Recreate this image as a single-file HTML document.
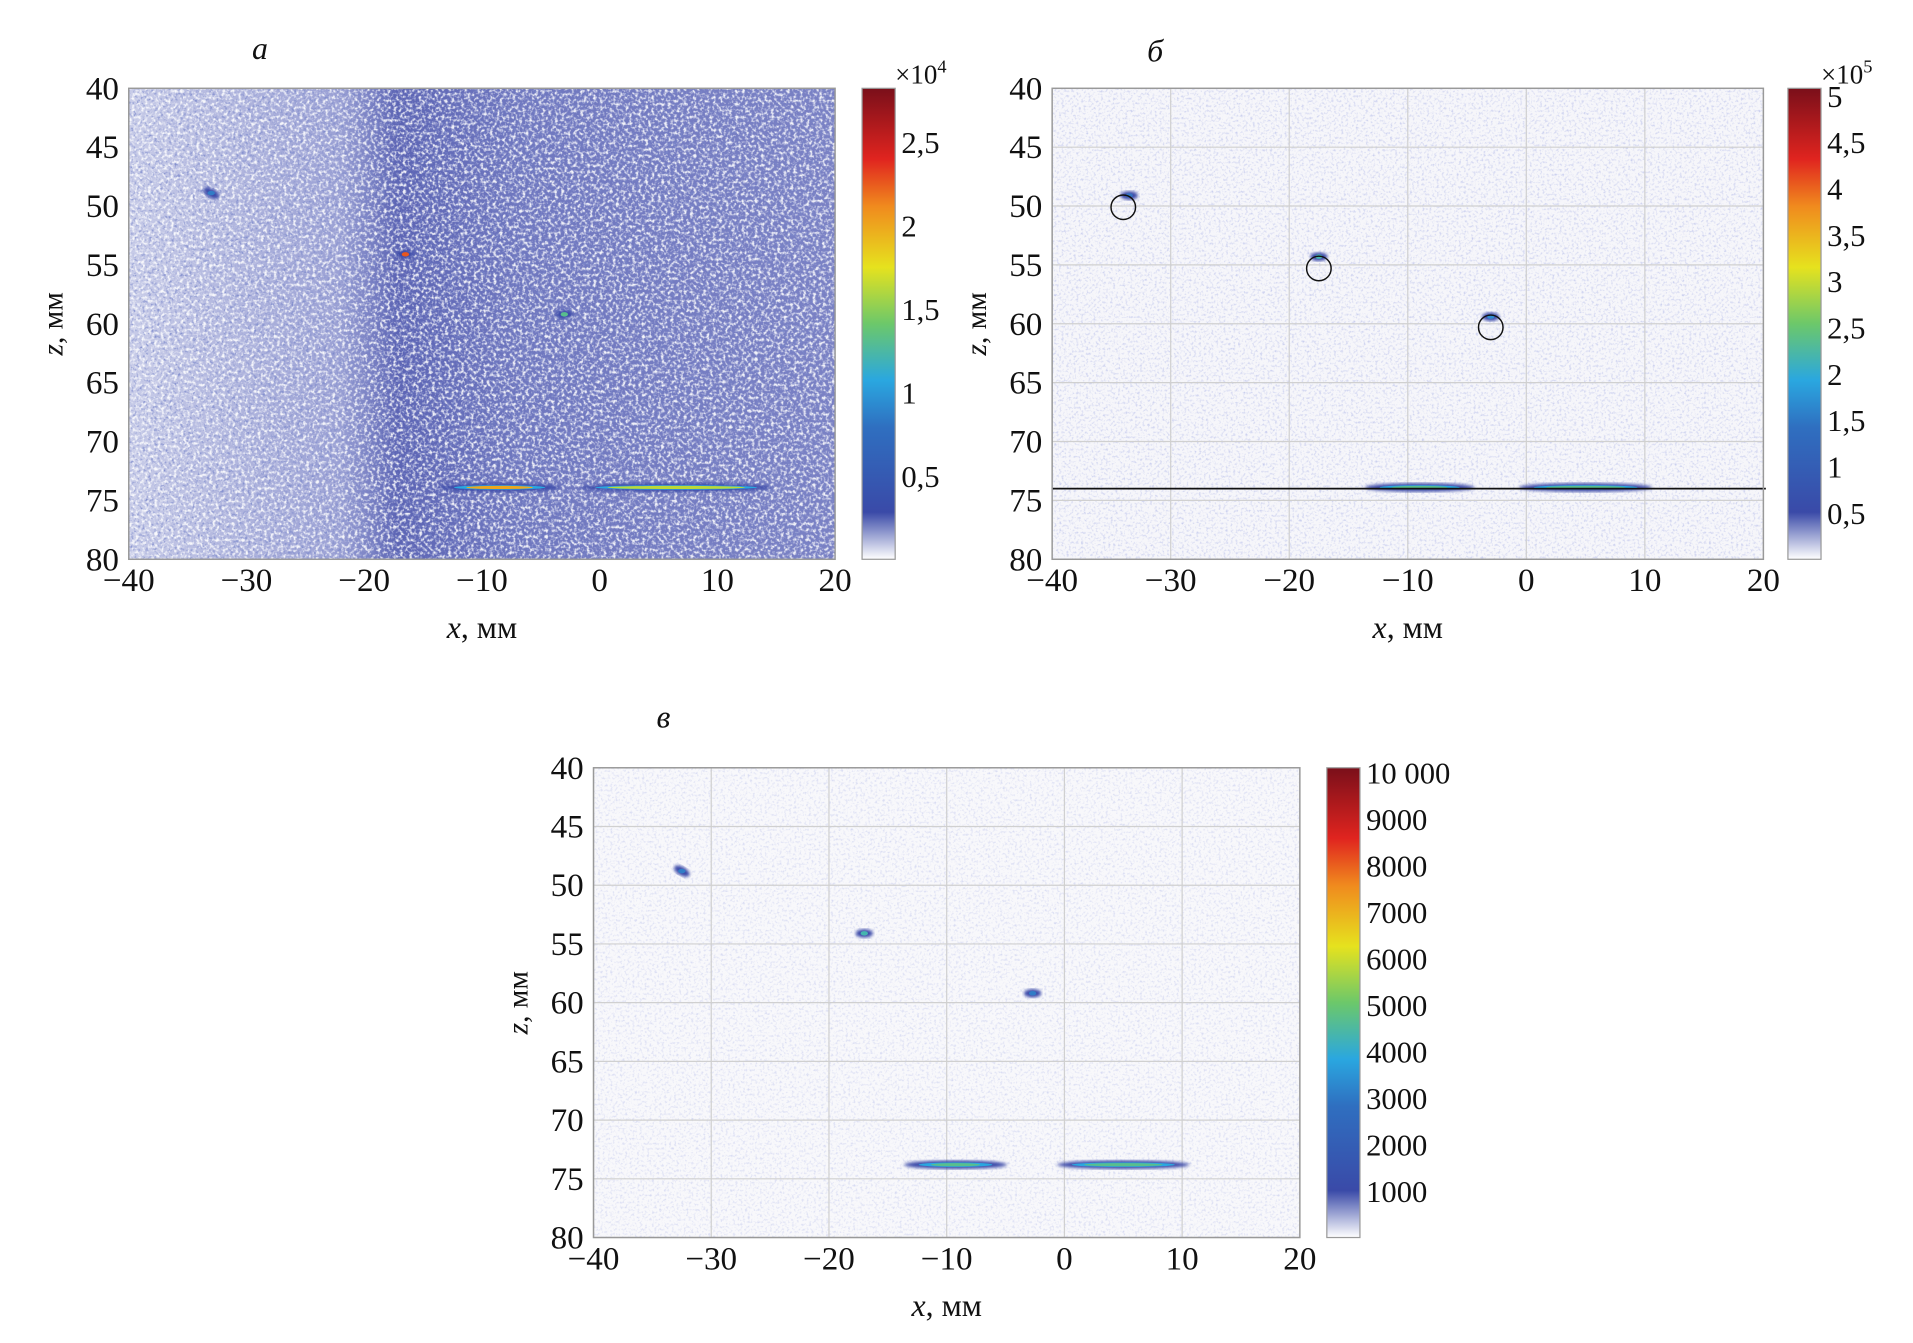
<!DOCTYPE html>
<html><head><meta charset="utf-8">
<style>
html,body{margin:0;padding:0;background:#fff;}
svg{display:block;}
text{font-family:"Liberation Serif","DejaVu Serif",serif;fill:#111;}
</style></head>
<body>
<svg id="fig" width="1913" height="1343" viewBox="0 0 1560 1095" preserveAspectRatio="none" xmlns="http://www.w3.org/2000/svg">
<defs>
 <linearGradient id="jet" x1="0" y1="1" x2="0" y2="0">
  <stop offset="0" stop-color="#ffffff"/>
  <stop offset="0.1" stop-color="#3a4aa8"/>
  <stop offset="0.28" stop-color="#2f6fc0"/>
  <stop offset="0.38" stop-color="#2aa7e0"/>
  <stop offset="0.5" stop-color="#6cc86a"/>
  <stop offset="0.62" stop-color="#e6e21e"/>
  <stop offset="0.75" stop-color="#f08a1e"/>
  <stop offset="0.85" stop-color="#e0241f"/>
  <stop offset="1" stop-color="#7a0f1a"/>
 </linearGradient>
 <linearGradient id="bgA" x1="0" y1="0" x2="1" y2="0">
  <stop offset="0" stop-color="#c8cce8"/>
  <stop offset="0.3" stop-color="#9aa0d4"/>
  <stop offset="0.38" stop-color="#5c64b4"/>
  <stop offset="0.55" stop-color="#6f77bf"/>
  <stop offset="1" stop-color="#7a81c4"/>
 </linearGradient>
 <filter id="noise" x="0" y="0" width="1" height="1">
  <feTurbulence type="fractalNoise" baseFrequency="0.38" numOctaves="2" seed="3"/>
  <feColorMatrix type="matrix" values="0 0 0 0 1  0 0 0 0 1  0 0 0 0 1  0 0 0 3.2 -1.45"/>
 </filter>
 <filter id="noiseD" x="0" y="0" width="1" height="1">
  <feTurbulence type="fractalNoise" baseFrequency="0.42" numOctaves="2" seed="11"/>
  <feColorMatrix type="matrix" values="0 0 0 0 0.2  0 0 0 0 0.25  0 0 0 0 0.6  0 0 0 3.0 -1.55"/>
 </filter>
 <filter id="noiseB" x="0" y="0" width="1" height="1">
  <feTurbulence type="fractalNoise" baseFrequency="0.5" numOctaves="2" seed="7"/>
  <feColorMatrix type="matrix" values="0 0 0 0 0.3  0 0 0 0 0.35  0 0 0 0 0.75  0 0 0 2.0 -1.0"/>
 </filter>
 <filter id="blur"><feGaussianBlur stdDeviation="1.2"/></filter>
</defs>
</svg>
<script>
// Panel data (x in mm, z in mm, relative intensity 0..1)
const xTicks = [-40,-30,-20,-10,0,10,20];
const zTicks = [40,45,50,55,60,65,70,75,80];
const blobsA_x = [-33,-16.5,-3];
const blobsA_z = [48.9,54.1,59.2];
const blobsA_v = [0.15,0.8,0.4];
const barsA_x0 = [-13,-1];
const barsA_x1 = [-4,14];
const barsA_z = [73.9,73.9];
const barsA_v = [0.7,0.55];
const blobsB_x = [-33.5,-17.5,-3];
const blobsB_z = [49.1,54.3,59.4];
const blobsB_v = [0.12,0.35,0.2];
const circB_x = [-34,-17.5,-3];
const circB_z = [50.1,55.3,60.3];
const barsB_x0 = [-13,0];
const barsB_x1 = [-5,10];
const barsB_z = [73.9,73.9];
const barsB_v = [0.4,0.4];
const blobsC_x = [-32.5,-17,-2.7];
const blobsC_z = [48.8,54.1,59.2];
const blobsC_v = [0.15,0.35,0.15];
const barsC_x0 = [-13,0];
const barsC_x1 = [-5.5,10];
const barsC_z = [73.8,73.8];
const barsC_v = [0.4,0.4];
const cbA_ticks = [0.5,1,1.5,2,2.5]; const cbA_labels=["0,5","1","1,5","2","2,5"];
const cbB_ticks = [0.5,1,1.5,2,2.5,3,3.5,4,4.5,5]; const cbB_labels=["0,5","1","1,5","2","2,5","3","3,5","4","4,5","5"];
const cbC_ticks = [1000,2000,3000,4000,5000,6000,7000,8000,9000,10000]; const cbC_labels=["1000","2000","3000","4000","5000","6000","7000","8000","9000","10 000"];

const NS="http://www.w3.org/2000/svg";
const svg=document.getElementById('fig');
function el(tag,attrs,parent){const e=document.createElementNS(NS,tag);for(const k in attrs)e.setAttribute(k,attrs[k]);(parent||svg).appendChild(e);return e;}
function txt(s,attrs,parent){const t=el('text',attrs,parent);t.textContent=s;return t;}
function jet(v){const st=[[0,[58,74,168]],[0.28,[42,167,224]],[0.45,[108,200,106]],[0.6,[230,226,30]],[0.75,[240,138,30]],[0.85,[224,36,31]],[1,[122,15,26]]];
 for(let i=1;i<st.length;i++){if(v<=st[i][0]){const a=st[i-1],b=st[i],t=(v-a[0])/(b[0]-a[0]);return 'rgb('+a[1].map((c,j)=>Math.round(c+(b[1][j]-c)*t)).join(',')+')';}}return 'rgb(122,15,26)';}

function panel(o){
 const g=el('g',{});
 
 
 const X=x=>o.x0+(x+40)/60*(o.x1-o.x0);
 const Z=z=>o.y0+(z-40)/40*(o.y1-o.y0);
 const bg=el('rect',{x:o.x0,y:o.y0,width:o.x1-o.x0,height:o.y1-o.y0,fill:o.bg},g);
 
 
 if(o.dark) el('rect',{x:o.x0,y:o.y0,width:o.x1-o.x0,height:o.y1-o.y0,filter:o.dark,opacity:0.9},g);
 el('rect',{x:o.x0,y:o.y0,width:o.x1-o.x0,height:o.y1-o.y0,filter:o.noise,opacity:o.nop},g);
 if(o.grid){
  xTicks.forEach(t=>{const l=el('line',{x1:X(t),x2:X(t),y1:o.y0,y2:o.y1,stroke:'#d0d0d0','stroke-width':1},g);});
  zTicks.forEach(t=>{const l=el('line',{x1:o.x0,x2:o.x1,y1:Z(t),y2:Z(t),stroke:'#d0d0d0','stroke-width':1},g);});
 }
 const d=o.data;
 d.bx.forEach((x,i)=>{
  const c=X(x),cz=Z(d.bz[i]);
  el('ellipse',{cx:c,cy:cz,rx:7,ry:3.5,fill:'#3a4aa8',filter:'url(#blur)',transform:o.tilt&&i==0?'rotate(30 '+c+' '+cz+')':''},g);
  const e=el('ellipse',{cx:c,cy:cz,rx:3,ry:1.8,fill:jet(d.bv[i])},g);
  
  
 });
 d.rx0.forEach((x,i)=>{
  const a=X(x),b=X(d.rx1[i]),cz=Z(d.rz[i]);
  el('ellipse',{cx:(a+b)/2,cy:cz,rx:(b-a)/2+6,ry:3.5,fill:'#3a4aa8',filter:'url(#blur)'},g);
  el('ellipse',{cx:(a+b)/2,cy:cz,rx:(b-a)/2-6,ry:1.8,fill:'#2aa7e0'},g);
  const e=el('ellipse',{cx:(a+b)/2,cy:cz,rx:(b-a)/2-16,ry:1.3,fill:jet(d.rv[i])},g);
  
  
 });
 if(o.circ){
  o.circ.x.forEach((x,i)=>{const c=el('circle',{cx:X(x),cy:Z(o.circ.z[i]),r:10,fill:'none',stroke:'#111','stroke-width':1.2},g);});
  const l=el('line',{x1:o.x0,x2:o.x1+2,y1:Z(74),y2:Z(74),stroke:'#111','stroke-width':1.4},g);
  
 }
 el('rect',{x:o.x0,y:o.y0,width:o.x1-o.x0,height:o.y1-o.y0,fill:'none',stroke:'#999','stroke-width':1.2},g);
 xTicks.forEach(t=>{const s=t<0?'\u2212'+(-t):''+t;const e=txt(s,{x:X(t),y:o.y1+26,'font-size':27,'text-anchor':'middle'},g);});
 zTicks.forEach(t=>{const e=txt(''+t,{x:o.x0-8,y:Z(t)+9,'font-size':27,'text-anchor':'end'},g);});
 const xl=txt('',{x:(o.x0+o.x1)/2,y:o.y1+64,'font-size':26,'text-anchor':'middle'},g);
 xl.innerHTML='<tspan font-style="italic">x</tspan>, мм';
 
 const yx=o.x0-54,yy=(o.y0+o.y1)/2;
 const yl=txt('',{x:yx,y:yy,'font-size':24,'text-anchor':'middle',transform:'rotate(-90 '+yx+' '+yy+')'},g);
 yl.innerHTML='<tspan font-style="italic">z</tspan>, мм';
 
 const tt=txt(o.title,{x:o.tx,y:o.ty,'font-size':26,'font-style':'italic','text-anchor':'middle'},g);
 
 const cb=el('rect',{x:o.cx,y:o.y0,width:27,height:o.y1-o.y0,fill:'url(#jet)',stroke:'#999','stroke-width':1},g);
 
 const C=v=>o.y1-v/o.cmax*(o.y1-o.y0);
 o.cticks.forEach((v,i)=>{const e=txt(o.clabels[i],{x:o.cx+32,y:C(v)+9,'font-size':25},g);});
 if(o.exp){const e=txt('',{x:o.cx+27,y:o.y0-4,'font-size':22},g);e.innerHTML='×10<tspan dy="-9" font-size="15">'+o.exp+'</tspan>';}
}
panel({name:'panel-a',x0:105,x1:681,y0:72,y1:456,bg:'url(#bgA)',dark:'url(#noiseD)',noise:'url(#noise)',nop:0.9,grid:false,tilt:true,
 data:{bx:blobsA_x,bz:blobsA_z,bv:blobsA_v,rx0:barsA_x0,rx1:barsA_x1,rz:barsA_z,rv:barsA_v},
 title:'а',tx:212,ty:48,cx:703,cmax:2.82,cticks:cbA_ticks,clabels:cbA_labels,exp:'4'});
panel({name:'panel-b',x0:858,x1:1438,y0:72,y1:456,bg:'#f6f6fa',noise:'url(#noiseB)',nop:0.6,grid:true,tilt:false,
 circ:{x:circB_x,z:circB_z},
 data:{bx:blobsB_x,bz:blobsB_z,bv:blobsB_v,rx0:barsB_x0,rx1:barsB_x1,rz:barsB_z,rv:barsB_v},
 title:'б',tx:942,ty:50,cx:1458,cmax:5.08,cticks:cbB_ticks,clabels:cbB_labels,exp:'5'});
panel({name:'panel-c',x0:484,x1:1060,y0:626,y1:1009,bg:'#f8f8fb',noise:'url(#noiseB)',nop:0.45,grid:true,tilt:true,
 data:{bx:blobsC_x,bz:blobsC_z,bv:blobsC_v,rx0:barsC_x0,rx1:barsC_x1,rz:barsC_z,rv:barsC_v},
 title:'в',tx:541,ty:593,cx:1082,cmax:10100,cticks:cbC_ticks,clabels:cbC_labels,exp:null});
</script>
</body></html>
